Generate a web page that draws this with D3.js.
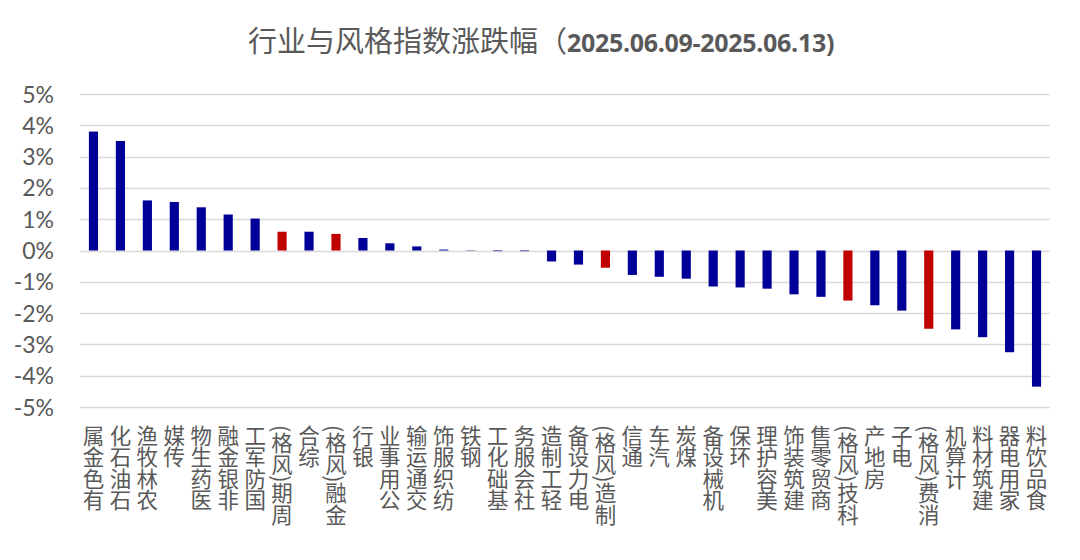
<!DOCTYPE html>
<html>
<head>
<meta charset="utf-8">
<script src="https://cdn.jsdelivr.net/npm/d3@7"></script>
<style>
  html, body { margin: 0; padding: 0; background: #fff; }
  svg { display: block; }
</style>
</head>
<body>
<div id="chart"></div>
<script>
// Categories (industries + style indices), weekly change in %
const categories = [
  '有色金属', '石油石化', '农林牧渔', '传媒', '医药生物', '非银金融', '国防军工',
  '周期(风格)', '综合', '金融(风格)', '银行', '公用事业', '交通运输', '纺织服饰',
  '钢铁', '基础化工', '社会服务', '轻工制造', '电力设备', '制造(风格)', '通信',
  '汽车', '煤炭', '机械设备', '环保', '美容护理', '建筑装饰', '商贸零售',
  '科技(风格)', '房地产', '电子', '消费(风格)', '计算机', '建筑材料', '家用电器',
  '食品饮料'
];
const changes = [
  3.80, 3.50, 1.60, 1.55, 1.38, 1.15, 1.02,
  0.60, 0.60, 0.53, 0.40, 0.23, 0.13, 0.03,
  -0.01, -0.02, -0.02, -0.35, -0.45, -0.55, -0.78,
  -0.84, -0.90, -1.15, -1.18, -1.22, -1.40, -1.48,
  -1.60, -1.75, -1.92, -2.50, -2.52, -2.77, -3.25,
  -4.35
];
const yTicks = [5, 4, 3, 2, 1, 0, -1, -2, -3, -4, -5];
const titleMain = '行业与风格指数涨跌幅（';
const titleDate = '2025.06.09-2025.06.13)';

const width = 1080, height = 560;
const margin = { top: 94, right: 30, bottom: 153, left: 80 };
const grey = '#595959';
const cjkFont = '"Noto Sans CJK SC", sans-serif';

const svg = d3.select('#chart').append('svg')
  .attr('width', width)
  .attr('height', height);

const x = d3.scaleBand()
  .domain(categories)
  .range([margin.left, width - margin.right])
  .paddingInner(0.66)
  .paddingOuter(0.33);

const y = d3.scaleLinear()
  .domain([-5, 5])
  .range([height - margin.bottom, margin.top]);

// gridlines
svg.append('g')
  .selectAll('line')
  .data(yTicks)
  .join('line')
  .attr('x1', margin.left)
  .attr('x2', width - margin.right)
  .attr('y1', d => Math.round(y(d)) + 0.5)
  .attr('y2', d => Math.round(y(d)) + 0.5)
  .attr('stroke', '#d9d9d9')
  .attr('stroke-width', 1.5);

// y axis labels
const yAxis = svg.append('g')
  .attr('transform', `translate(${margin.left - 23},0)`)
  .call(d3.axisLeft(y).tickValues(yTicks).tickFormat(d => d + '%').tickSize(0));
yAxis.select('.domain').remove();
yAxis.selectAll('text')
  .attr('fill', grey)
  .attr('font-family', 'Lato, "Open Sans", sans-serif')
  .attr('font-size', 23)
  .attr('dy', '0.35em');

// bars
svg.append('g')
  .selectAll('rect')
  .data(categories)
  .join('rect')
  .attr('x', d => x(d))
  .attr('width', x.bandwidth())
  .attr('y', (d, i) => y(Math.max(0, changes[i])))
  .attr('height', (d, i) => Math.abs(y(changes[i]) - y(0)))
  .attr('fill', d => d.includes('风格') ? '#c00000' : '#000099');

// category labels: Excel-style 270deg text (reads bottom to top, end at top),
// CJK glyphs upright. One vertical text per glyph, stacked from the top;
// brackets are swapped so they lie the same way as the turned text.
const fs = 21.5;
const labelTop = 425;
const swap = { '(': ')', ')': '(' };

svg.append('g')
  .selectAll('g')
  .data(categories)
  .join('g')
  .attr('fill', grey)
  .attr('font-family', cjkFont)
  .attr('font-size', fs)
  .each(function (d) {
    const g = d3.select(this);
    const cx = x(d) + x.bandwidth() / 2;
    let cy = labelTop;
    Array.from(d).reverse().forEach(ch => {
      const t = g.append('text')
        .attr('x', cx)
        .attr('y', cy)
        .style('writing-mode', 'vertical-rl')
        .style('text-orientation', 'mixed')
        .text(swap[ch] || ch);
      cy += swap[ch] ? t.node().getComputedTextLength() : fs;
    });
  });

// title
const title = svg.append('text')
  .attr('x', 541)
  .attr('y', 52)
  .attr('text-anchor', 'middle')
  .attr('fill', grey);
title.append('tspan')
  .attr('font-family', cjkFont)
  .attr('font-size', 29)
  .text(titleMain);
title.append('tspan')
  .attr('font-family', '"Open Sans", "Noto Sans", sans-serif')
  .attr('font-weight', 'bold')
  .attr('font-size', 25)
  .attr('letter-spacing', -0.3)
  .text(titleDate);
</script>
</body>
</html>
